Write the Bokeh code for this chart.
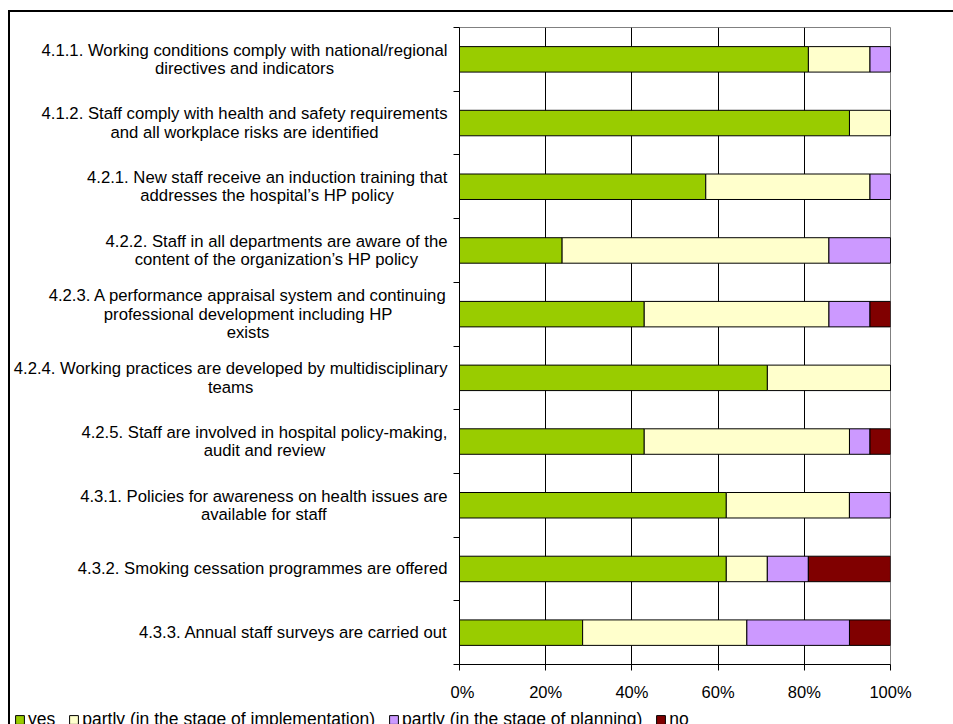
from bokeh.plotting import figure
from bokeh.layouts import row, column
from bokeh.models import (ColumnDataSource, FixedTicker, PrintfTickFormatter,
                          Legend, LegendItem, Range1d)
from bokeh.core.properties import value
from bokeh.embed import file_html
from bokeh.resources import INLINE

# Self-assessment items (top to bottom)
categories = [
    "4.1.1. Working conditions comply with national/regional\ndirectives and indicators",
    "4.1.2. Staff comply with health and safety requirements\nand all workplace risks are identified",
    "4.2.1. New staff receive an induction training that\naddresses the hospital\u2019s HP policy",
    "4.2.2. Staff in all departments are aware of the\ncontent of the organization\u2019s HP policy",
    "4.2.3. A performance appraisal system and continuing\nprofessional development including HP\nexists",
    "4.2.4. Working practices are developed by multidisciplinary\nteams",
    "4.2.5. Staff are involved in hospital policy-making,\naudit and review",
    "4.3.1. Policies for awareness on health issues are\navailable for staff",
    "4.3.2. Smoking cessation programmes are offered",
    "4.3.3. Annual staff surveys are carried out",
]

# Share of hospitals per answer, in percent
yes = [80.95, 90.48, 57.14, 23.81, 42.86, 71.43, 42.86, 61.90, 61.90, 28.57]
partly_impl = [14.29, 9.52, 38.10, 61.90, 42.86, 28.57, 47.62, 28.57, 9.52, 38.10]
partly_plan = [4.76, 0.0, 4.76, 14.29, 9.52, 0.0, 4.76, 9.52, 9.52, 23.81]
no = [0.0, 0.0, 0.0, 0.0, 4.76, 0.0, 4.76, 0.0, 19.05, 9.52]

series_names = ["yes", "partly (in the stage of implementation)",
                "partly (in the stage of planning)", "no"]
series_keys = ["yes", "partly_impl", "partly_plan", "no"]
colors = ["#99CC00", "#FFFFCC", "#CC99FF", "#800000"]
x_ticks = [0, 20, 40, 60, 80, 100]

n = len(categories)
# first item at the top: row i sits between n-i-1 and n-i
ypos = [n - i - 0.5 for i in range(n)]
bounds = list(range(n + 1))

source = ColumnDataSource(dict(y=ypos, yes=yes, partly_impl=partly_impl,
                               partly_plan=partly_plan, no=no))

FONT = "Liberation Sans"
WIDTH = 943
HEIGHT = 691
TOP, BOTTOM = 15, 38
LABEL_W = 440

y_range = Range1d(0, n)

# ---- item labels (left column)
lab = figure(width=LABEL_W, height=HEIGHT, x_range=(0, LABEL_W), y_range=y_range,
             output_backend="svg", toolbar_location=None,
             x_axis_type=None, y_axis_type=None,
             min_border_left=0, min_border_right=0,
             min_border_top=TOP, min_border_bottom=BOTTOM)
lab.outline_line_color = None
lab.grid.visible = False
lab_src = ColumnDataSource(dict(x=[LABEL_W - 3] * n, y=ypos, text=categories))
lab.text(x="x", y="y", text="text", source=lab_src, text_align="center",
         anchor="center_right", text_font=value(FONT),
         text_font_size="16.7px", text_color="black", text_line_height=0.97)

# ---- stacked bars
p = figure(width=WIDTH - LABEL_W, height=HEIGHT, x_range=(0, 100), y_range=y_range,
           output_backend="svg", toolbar_location=None,
           min_border_left=9, min_border_right=63,
           min_border_top=TOP, min_border_bottom=BOTTOM)
p.background_fill_color = "white"
p.border_fill_color = "white"
p.outline_line_color = "#808080"
p.outline_line_width = 1

renderers = p.hbar_stack(series_keys, y="y", height=0.4, color=colors,
                         line_color="black", line_width=1, source=source)

p.xaxis.ticker = FixedTicker(ticks=x_ticks)
p.xaxis.formatter = PrintfTickFormatter(format="%d%%")
p.xaxis.axis_line_color = "black"
p.xaxis.major_tick_line_color = "black"
p.xaxis.major_tick_out = 6
p.xaxis.major_tick_in = 0
p.xaxis.minor_tick_line_color = None
p.xaxis.major_label_standoff = 12
p.xaxis.major_label_text_font = FONT
p.xaxis.major_label_text_font_size = "16.5px"
p.xaxis.major_label_text_color = "black"

p.yaxis.ticker = FixedTicker(ticks=bounds)
p.yaxis.major_label_text_font_size = "0px"
p.yaxis.major_label_standoff = 0
p.yaxis.axis_line_color = "black"
p.yaxis.major_tick_line_color = "black"
p.yaxis.major_tick_out = 6
p.yaxis.major_tick_in = 0
p.yaxis.minor_tick_line_color = None

p.xgrid.ticker = FixedTicker(ticks=[20, 40, 60, 80])
p.xgrid.grid_line_color = "black"
p.xgrid.grid_line_width = 1
p.ygrid.grid_line_color = None

# ---- legend strip (same series, plotted out of view so only the key shows)
lg = figure(width=WIDTH, height=40, x_range=(0, 100), y_range=(100, 101),
            output_backend="svg", toolbar_location=None,
            x_axis_type=None, y_axis_type=None,
            min_border_left=0, min_border_right=0,
            min_border_top=0, min_border_bottom=0)
lg.outline_line_color = None
lg.grid.visible = False
keys = lg.hbar_stack(series_keys, y="y", height=0.4, color=colors,
                     line_color="black", line_width=1, source=source)
items = [LegendItem(label=name, renderers=[r]) for name, r in zip(series_names, keys)]
legend = Legend(items=items, orientation="horizontal", location=(4, 13),
                glyph_width=11, glyph_height=11, label_height=15, label_standoff=3,
                spacing=13, padding=0, margin=0, border_line_color=None,
                background_fill_alpha=0, label_text_font=FONT,
                label_text_font_size="17.5px", label_text_color="black")
lg.add_layout(legend, "center")

layout = column(row(lab, p, spacing=0), lg, spacing=0,
                styles={"margin-left": "8px", "margin-top": "10px",
                        "border-left": "2px solid black",
                        "border-top": "2px solid black"})

open("out.html", "w").write(file_html(layout, INLINE))
